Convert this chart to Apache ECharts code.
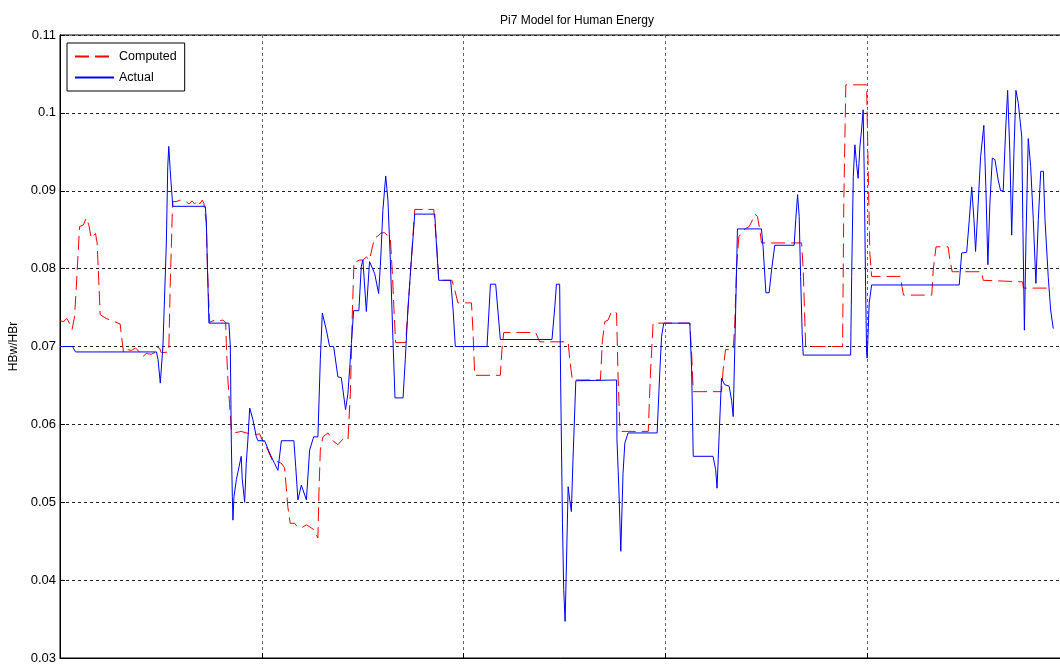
<!DOCTYPE html>
<html>
<head>
<meta charset="utf-8">
<title>Pi7 Model for Human Energy</title>
<script src="https://cdn.jsdelivr.net/npm/echarts@6/dist/echarts.min.js"></script>
<style>
  html, body { margin: 0; padding: 0; background: #fff; }
  #chart { width: 1060px; height: 664px; }
</style>
</head>
<body>
<div id="chart"></div>
<script>
// Sample index of each point and the HBw/HBr ratio it has
const computedX = [
  0, 1.7, 3.4, 4.7, 6.0, 7.2, 8.0, 8.8, 9.7, 11.6,
  13.0, 14.3, 15.5, 17.6, 18.4, 19.2, 19.9, 22.9, 23.7, 27.0,
  29.8, 30.5, 31.5, 33.6, 35.3, 37.4, 39.4, 41.1, 42.7, 45.2,
  46.9, 47.7, 49.3, 50.2, 53.9, 54.6, 55.6, 55.9, 57.6, 59.6,
  62.6, 63.9, 65.5, 66.7, 68.3, 69.2, 70.5, 71.3, 72.5, 73.1,
  74.1, 75.8, 77.4, 79.1, 80.7, 82.1, 82.4, 83.2, 84.0, 84.9,
  85.7, 88.2, 89.8, 92.3, 95.3, 97.3, 98.9, 100.2, 101.9, 103.0,
  105.5, 108.0, 109.7, 111.3, 112.1, 112.9, 114.1, 116.3, 117.4, 119.6,
  122.1, 123.4, 125.7, 127.8, 128.3, 129.0, 130.3, 132.8, 135.6, 137.7,
  140.2, 142.7, 143.5, 143.9, 144.9, 145.7, 146.8, 148.5, 150.1, 151.8,
  153.4, 154.8, 155.9, 157.6, 159.2, 160.9, 163.7, 164.7, 165.5, 166.3,
  171.3, 172.4, 174.1, 175.8, 185.2, 186.5, 187.7, 194.2, 195.6, 197.2,
  203.9, 204.7, 205.5, 218.2, 219.0, 219.9, 235.7, 237.7, 251.8, 252.6,
  253.9, 267.8, 268.8, 270.0, 271.6, 273.3, 275.8, 276.5, 277.4, 278.2,
  291.5, 292.6, 293.9, 312.1, 313.0, 313.8, 327.8, 328.6, 329.8, 333.6,
  334.4, 335.2, 336.4, 339.4, 341.5, 342.7, 344.3, 345.6, 346.8, 347.6,
  367.5, 368.3, 369.5, 387.8, 388.4, 389.4, 399.7, 400.5, 401.3, 402.2,
  416.4, 417.2, 418.0, 432.0, 432.7, 434.1, 440.1, 441.0, 442.1, 456.7,
  457.5, 458.3, 477.0, 477.4, 492.2
];
const computedY = [
  0.0733, 0.0732, 0.0736, 0.0730, 0.0722, 0.0738, 0.0773, 0.0811, 0.0854, 0.0856,
  0.0865, 0.0856, 0.0839, 0.0845, 0.0833, 0.0785, 0.0741, 0.0736, 0.0734, 0.0732,
  0.0729, 0.0713, 0.0692, 0.0696, 0.0695, 0.0698, 0.0693, 0.0687, 0.0691, 0.0690,
  0.0692, 0.0700, 0.0698, 0.0692, 0.0693, 0.0777, 0.0867, 0.0886, 0.0886, 0.0888,
  0.0886, 0.0883, 0.0887, 0.0883, 0.0888, 0.0883, 0.0888, 0.0884, 0.0858, 0.0798,
  0.0731, 0.0733, 0.0734, 0.0733, 0.0734, 0.0731, 0.0704, 0.0657, 0.0627, 0.0593,
  0.0589, 0.0590, 0.0591, 0.0589, 0.0588, 0.0587, 0.0588, 0.0580, 0.0572, 0.0567,
  0.0552, 0.0552, 0.0550, 0.0544, 0.0520, 0.0494, 0.0473, 0.0473, 0.0469, 0.0467,
  0.0471, 0.0469, 0.0465, 0.0454, 0.0512, 0.0567, 0.0584, 0.0589, 0.0578, 0.0574,
  0.0581, 0.0580, 0.0579, 0.0640, 0.0747, 0.0809, 0.0809, 0.0811, 0.0811, 0.0815,
  0.0811, 0.0828, 0.0839, 0.0842, 0.0846, 0.0846, 0.0839, 0.0794, 0.0747, 0.0705,
  0.0705, 0.0747, 0.0811, 0.0876, 0.0876, 0.0837, 0.0785, 0.0785, 0.0773, 0.0756,
  0.0756, 0.0717, 0.0663, 0.0663, 0.0696, 0.0718, 0.0718, 0.0706, 0.0706, 0.0683,
  0.0657, 0.0657, 0.0708, 0.0732, 0.0734, 0.0745, 0.0743, 0.0666, 0.0597, 0.0591,
  0.0591, 0.0666, 0.0730, 0.0730, 0.0691, 0.0642, 0.0642, 0.0670, 0.0696, 0.0696,
  0.0730, 0.0798, 0.0841, 0.0851, 0.0854, 0.0860, 0.0870, 0.0867, 0.0850, 0.0833,
  0.0833, 0.0798, 0.0700, 0.0700, 0.0884, 0.1036, 0.1036, 0.0927, 0.0820, 0.0790,
  0.0790, 0.0777, 0.0766, 0.0766, 0.0798, 0.0828, 0.0828, 0.0811, 0.0796, 0.0796,
  0.0785, 0.0783, 0.0783, 0.0775, 0.0775
];

const actualX = [
  0, 6.2, 7.7, 47.8, 48.6, 49.7, 51.0, 52.7, 53.4, 53.9,
  54.6, 55.4, 55.9, 72.0, 72.5, 73.1, 73.8, 83.7, 84.4, 84.9,
  85.4, 85.7, 86.2, 87.4, 89.8, 90.3, 91.5, 92.3, 93.1, 94.0,
  95.6, 97.3, 98.1, 101.4, 103.9, 106.3, 108.0, 109.7, 115.9, 116.8,
  117.9, 119.6, 122.1, 123.7, 125.7, 127.8, 129.0, 130.0, 132.0, 133.6,
  135.6, 137.7, 139.4, 141.5, 142.7, 144.4, 145.5, 148.1, 149.3, 150.1,
  151.8, 153.4, 155.9, 157.9, 158.9, 160.0, 161.4, 162.5, 163.7, 165.0,
  166.0, 170.0, 171.1, 172.4, 174.1, 175.8, 185.7, 186.5, 187.7, 193.6,
  194.8, 195.9, 211.6, 213.3, 215.9, 217.1, 218.2, 243.8, 245.2, 246.0,
  247.6, 248.1, 249.0, 249.6, 250.3, 250.9, 251.8, 252.6, 253.4, 254.2,
  255.6, 275.8, 276.0, 276.9, 277.9, 279.0, 279.9, 281.5, 295.9, 297.2,
  298.1, 299.2, 312.1, 313.0, 313.8, 323.6, 324.9, 325.6, 326.6, 327.8,
  329.4, 331.6, 332.8, 333.6, 334.4, 335.2, 335.7, 347.6, 348.4, 349.8,
  351.4, 352.6, 354.2, 363.8, 364.6, 365.5, 366.3, 367.0, 367.8, 368.3,
  391.8, 392.3, 393.1, 393.9, 394.7, 395.5, 396.4, 397.2, 398.0, 398.5,
  399.2, 399.7, 400.0, 401.0, 402.2, 445.6, 446.8, 449.3, 450.6, 451.8,
  452.9, 453.7, 455.0, 456.2, 457.8, 458.8, 459.8, 460.8, 462.0, 463.3,
  464.9, 466.1, 467.4, 468.6, 469.6, 470.7, 471.6, 472.7, 473.7, 474.9,
  476.6, 477.1, 477.9, 478.7, 479.8, 481.0, 482.3, 483.6, 484.8, 486.0,
  487.3, 488.1, 489.7, 490.9, 492.2
];
const actualY = [
  0.0700, 0.0700, 0.0693, 0.0693, 0.0683, 0.0653, 0.0700, 0.0833, 0.0931, 0.0957,
  0.0927, 0.0897, 0.0880, 0.0880, 0.0863, 0.0798, 0.0730, 0.0730, 0.0700, 0.0576,
  0.0507, 0.0477, 0.0507, 0.0529, 0.0559, 0.0530, 0.0500, 0.0550, 0.0580, 0.0621,
  0.0606, 0.0584, 0.0579, 0.0579, 0.0563, 0.0550, 0.0541, 0.0579, 0.0579, 0.0546,
  0.0503, 0.0522, 0.0503, 0.0567, 0.0584, 0.0584, 0.0683, 0.0743, 0.0721, 0.0700,
  0.0700, 0.0661, 0.0660, 0.0619, 0.0640, 0.0704, 0.0746, 0.0746, 0.0803, 0.0811,
  0.0745, 0.0809, 0.0794, 0.0768, 0.0811, 0.0875, 0.0919, 0.0888, 0.0811, 0.0708,
  0.0634, 0.0634, 0.0683, 0.0747, 0.0811, 0.0870, 0.0870, 0.0833, 0.0785, 0.0785,
  0.0747, 0.0700, 0.0700, 0.0780, 0.0780, 0.0743, 0.0709, 0.0709, 0.0751, 0.0780,
  0.0780, 0.0653, 0.0473, 0.0388, 0.0347, 0.0413, 0.0520, 0.0503, 0.0488, 0.0554,
  0.0656, 0.0657, 0.0580, 0.0520, 0.0437, 0.0537, 0.0576, 0.0589, 0.0589, 0.0666,
  0.0713, 0.0730, 0.0730, 0.0670, 0.0559, 0.0559, 0.0542, 0.0518, 0.0584, 0.0659,
  0.0651, 0.0649, 0.0631, 0.0610, 0.0700, 0.0790, 0.0851, 0.0851, 0.0828, 0.0769,
  0.0769, 0.0798, 0.0830, 0.0830, 0.0863, 0.0895, 0.0867, 0.0790, 0.0715, 0.0689,
  0.0689, 0.0790, 0.0918, 0.0959, 0.0935, 0.0916, 0.0957, 0.0978, 0.1004, 0.0927,
  0.0777, 0.0692, 0.0685, 0.0756, 0.0779, 0.0779, 0.0820, 0.0821, 0.0863, 0.0905,
  0.0863, 0.0822, 0.0884, 0.0944, 0.0984, 0.0905, 0.0805, 0.0884, 0.0942, 0.0940,
  0.0914, 0.0900, 0.0900, 0.0978, 0.1029, 0.0948, 0.0843, 0.0948, 0.1029, 0.1012,
  0.0969, 0.0863, 0.0721, 0.0841, 0.0967, 0.0931, 0.0863, 0.0781, 0.0863, 0.0925,
  0.0925, 0.0863, 0.0790, 0.0747, 0.0723
];

const seriesNames = ['Computed', 'Actual'];
const yTicks = { min: 0.03, max: 0.11, step: 0.01 };
const xTicks = { min: 0, max: 500, step: 100 };

const zip = (xs, ys) => xs.map((x, i) => [x, ys[i]]);

const FONT = '"Liberation Sans Narrow", "Liberation Sans", Arial, sans-serif';

const chart = echarts.init(document.getElementById('chart'), null, { renderer: 'canvas' });

chart.setOption({
  animation: false,
  backgroundColor: '#ffffff',
  title: {
    text: 'Pi7 Model for Human Energy',
    left: 572,
    textAlign: 'center',
    top: 10,
    textStyle: { fontFamily: FONT, fontSize: 12, fontWeight: 'normal', color: '#000' }
  },
  legend: {
    orient: 'vertical',
    left: 67,
    top: 43,
    padding: [7, 8, 7, 7],
    itemWidth: 39,
    itemHeight: 14,
    itemGap: 8,
    itemTextGap: 4,
    borderColor: '#000',
    borderWidth: 1,
    backgroundColor: '#fff',
    itemStyle: { opacity: 0 },
    textStyle: { fontFamily: FONT, fontSize: 12.5, color: '#000' },
    data: seriesNames
  },
  grid: {
    left: 60,
    top: 35,
    width: 1009,
    height: 623,
    outerBoundsMode: 'none',
    show: true,
    borderColor: '#000',
    borderWidth: 1
  },
  xAxis: {
    type: 'value',
    min: xTicks.min,
    max: xTicks.max,
    interval: xTicks.step,
    axisLine: { show: true, lineStyle: { color: '#000', width: 1 } },
    axisTick: { show: true, inside: true, length: 5, lineStyle: { color: '#000' } },
    axisLabel: { show: false },
    splitLine: { show: true, lineStyle: { color: '#666', type: [3, 3], width: 1 } }
  },
  yAxis: {
    type: 'value',
    min: yTicks.min,
    max: yTicks.max,
    interval: yTicks.step,
    name: 'HBw/HBr',
    nameLocation: 'middle',
    nameGap: 36,
    nameTextStyle: { fontFamily: FONT, fontSize: 12, color: '#000' },
    axisLine: { show: true, lineStyle: { color: '#000', width: 1 } },
    axisTick: { show: true, inside: true, length: 5, lineStyle: { color: '#000' } },
    axisLabel: {
      fontFamily: FONT,
      fontSize: 13,
      color: '#000',
      margin: 4,
      formatter: v => String(+v.toFixed(4))
    },
    splitLine: { show: true, lineStyle: { color: '#222', type: [3, 3], width: 1 } }
  },
  series: [
    {
      name: seriesNames[0],
      type: 'line',
      symbol: 'none',
      data: zip(computedX, computedY),
      lineStyle: { color: '#ff0000', width: 1, type: [14, 6] },
      itemStyle: { color: '#ff0000' },
      z: 2
    },
    {
      name: seriesNames[1],
      type: 'line',
      symbol: 'none',
      data: zip(actualX, actualY),
      lineStyle: { color: '#0000ff', width: 1 },
      itemStyle: { color: '#0000ff' },
      z: 3
    }
  ]
});
</script>
</body>
</html>
